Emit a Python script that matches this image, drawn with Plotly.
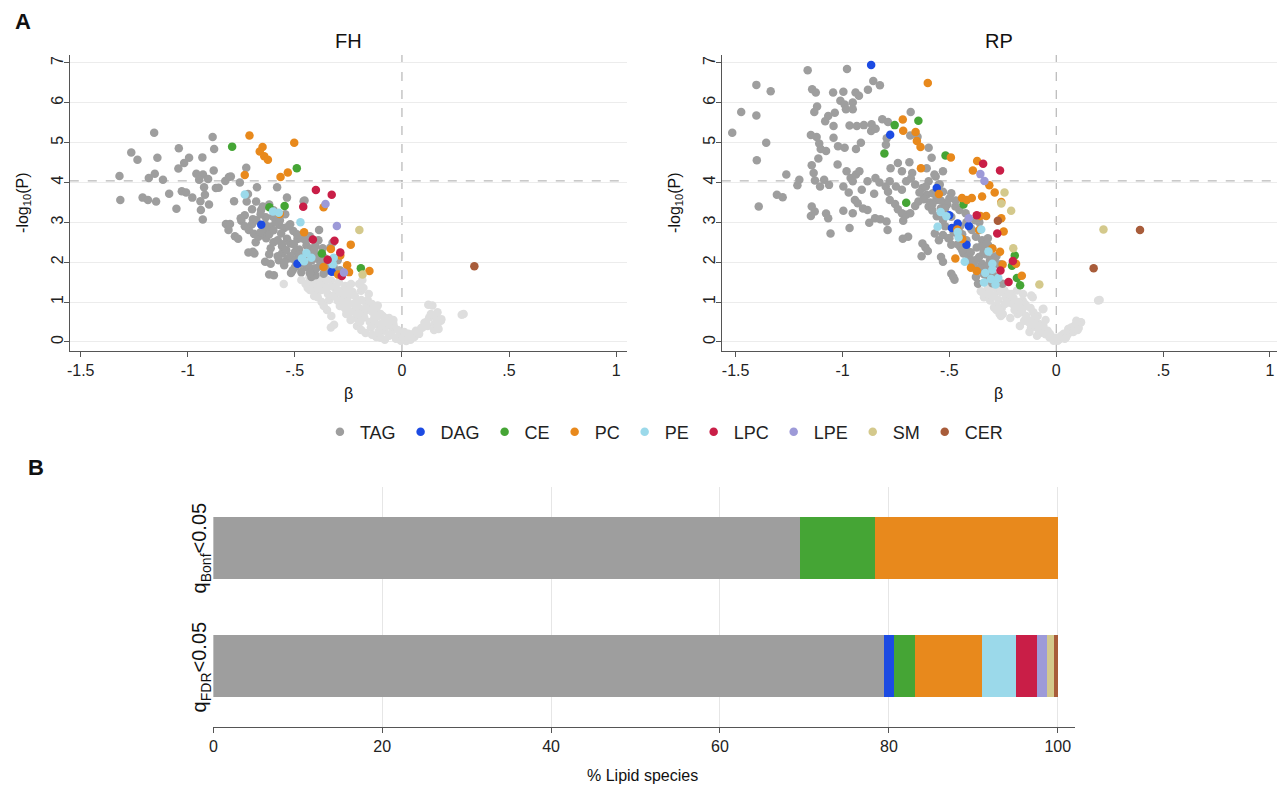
import plotly.graph_objects as go

W, H = 1283, 785

classes = ["TAG", "DAG", "CE", "PC", "PE", "LPC", "LPE", "SM", "CER"]
colors = {"TAG": "#9e9e9e", "DAG": "#1c4be3", "CE": "#45a535", "PC": "#e8891c",
          "PE": "#9bd9ea", "LPC": "#c91e47", "LPE": "#9d9ad8", "SM": "#d4c98c", "CER": "#a85c3a"}
ns_color = "#dedede"

# ---------------- FH panel data (beta, -log10 P) ----------------
fh_ns_beta = [-0.552,-0.432,-0.420,-0.409,-0.400,-0.393,-0.385,-0.375,-0.362,-0.355,-0.346,-0.340,-0.331,-0.325,-0.316,-0.310,-0.300,-0.295,-0.290,-0.284,-0.278,-0.269,-0.265,-0.260,-0.253,-0.245,-0.238,-0.230,-0.222,-0.215,-0.207,-0.200,-0.191,-0.185,-0.180,-0.176,-0.170,-0.160,-0.155,-0.150,-0.145,-0.138,-0.129,-0.120,-0.113,-0.105,-0.098,-0.090,-0.083,-0.075,-0.067,-0.060,-0.051,-0.045,-0.036,-0.028,-0.020,-0.010,-0.005,0.005,0.011,0.020,0.027,0.040,0.050,0.058,0.065,0.080,0.096,0.105,0.112,0.120,0.127,0.123,0.142,0.135,0.151,0.160,0.166,0.171,0.182,0.184,0.288,0.279,-0.332,-0.317,-0.440,-0.470,-0.350,-0.330,-0.240,-0.210,-0.190,-0.170,-0.140,-0.120,-0.100,-0.080,-0.375,-0.410,-0.365,-0.275,-0.255,-0.225,-0.205,-0.195,-0.165,-0.130,-0.110,-0.060,-0.040,0.030,0.070,0.090,0.150,0.165,
              -0.45,-0.43,-0.39,-0.35,-0.32,-0.30,-0.27,-0.25,-0.22,-0.18,-0.20,-0.16,-0.14,-0.12,-0.10,-0.08,-0.06,-0.04,-0.02,0.00,0.01,0.03,-0.28,-0.26,-0.24,-0.21,-0.19,-0.17,-0.13,-0.11]
fh_ns_logp = [1.45,1.62,1.50,1.37,1.25,1.12,1.45,1.30,1.45,1.58,1.20,1.05,1.54,1.40,1.37,1.20,1.03,1.50,0.90,1.28,1.10,0.86,1.40,0.70,1.12,0.95,1.45,1.25,0.78,0.60,1.03,0.85,1.28,1.55,0.70,0.61,1.00,0.86,1.20,0.50,0.36,0.75,0.61,0.45,0.91,0.30,0.45,0.65,0.28,0.40,0.53,0.15,0.19,0.30,0.36,0.08,0.11,0.20,0.03,0.10,0.07,0.02,0.11,0.05,0.19,0.12,0.28,0.20,0.36,0.48,0.49,0.40,0.61,0.93,0.91,0.70,0.45,0.60,0.74,0.32,0.53,0.57,0.70,0.68,0.36,0.43,1.35,1.55,0.80,0.65,0.55,0.40,0.30,0.22,0.18,0.12,0.10,0.05,1.00,1.15,0.90,1.20,1.00,0.95,0.70,0.50,0.80,0.55,0.25,0.60,0.45,0.15,0.25,0.35,0.30,0.40,
              1.45,1.30,1.55,1.35,1.15,1.30,1.20,1.30,1.15,1.35,1.45,1.05,0.95,0.80,0.70,0.60,0.45,0.55,0.30,0.18,0.25,0.20,0.95,0.80,0.75,0.90,1.05,0.85,0.55,0.65]

fh_TAG_beta = [-1.157,-0.884,-1.264,-1.235,-1.042,-0.877,-1.142,-0.994,-0.932,-1.017,-1.044,-0.727,-1.319,-1.154,-1.182,-1.116,-0.960,-0.929,-0.947,-0.879,-0.905,-0.825,-0.808,-0.799,-0.757,-1.315,-1.211,-1.186,-1.148,-1.087,-1.028,-1.008,-0.979,-0.941,-0.920,-0.901,-0.924,-0.869,-0.856,-1.053,-0.939,-0.930,-0.784,-0.677,-0.583,-0.719,-0.725,-0.681,-0.537,-0.459,-0.455,-0.822,-0.803,-0.810,-0.780,-0.765,-0.750,-0.734,-0.715,-0.717,-0.696,-0.691,-0.683,-0.634,-0.613,-0.639,-0.613,-0.620,-0.598,-0.700,-0.658,-0.636,-0.602,-0.573,-0.550,-0.522,-0.507,-0.564,-0.537,-0.522,-0.488,-0.480,-0.387,-0.446,-0.423,-0.404,-0.560,-0.535,-0.518,-0.550,-0.499,-0.446,-0.412,-0.404,-0.366,-0.347,-0.385,-0.410,-0.334,-0.324,-0.632,-0.651,-0.670,-0.696,-0.734,-0.753,-0.613,-0.499,-0.470,-0.575,-0.689,-0.423,-0.319,-0.423,-0.590,-0.545,-0.505,-0.470,-0.440,-0.395,-0.355,-0.300,-0.290,-0.560,-0.520,-0.480,-0.600,-0.650,-0.430,-0.380,
               -0.70,-0.68,-0.66,-0.64,-0.62,-0.60,-0.58,-0.56,-0.54,-0.52,-0.50,-0.48,-0.46,-0.44,-0.42,-0.40,-0.38,-0.36,-0.34,-0.33,-0.31,-0.62,-0.58,-0.55,-0.51,-0.47,-0.43,-0.66,-0.62,-0.60,-0.57,-0.53,-0.49,-0.45,-0.41,-0.39,-0.37]
fh_TAG_logp = [5.25,5.14,4.75,4.57,4.86,4.84,4.62,4.62,4.63,4.49,4.35,4.37,4.16,4.22,4.11,4.07,4.22,4.20,4.07,4.30,4.09,4.04,4.14,4.15,4.00,3.56,3.62,3.56,3.52,3.72,3.78,3.75,3.62,3.53,3.69,3.45,3.88,3.86,3.87,3.34,3.31,3.07,3.53,3.88,3.88,3.71,3.52,3.52,3.62,3.53,3.55,2.96,2.96,2.81,2.65,2.59,3.04,2.90,2.81,2.24,2.26,2.71,2.50,2.60,2.35,2.01,1.96,1.69,1.67,3.33,3.31,3.13,3.14,2.93,2.86,2.95,2.78,2.72,2.59,2.47,2.58,2.32,2.81,2.42,2.34,2.40,2.22,2.09,1.73,1.92,1.88,1.88,1.84,1.67,1.71,1.79,2.05,2.18,2.37,2.49,2.81,2.72,2.64,3.08,3.18,3.10,2.89,2.26,1.96,2.05,2.22,1.79,1.88,1.63,3.00,3.20,2.45,2.60,2.20,2.15,2.00,2.05,1.80,2.40,2.10,2.15,2.50,3.40,2.65,1.95,
               2.95,3.05,2.75,2.95,2.70,2.80,2.55,2.45,2.30,2.15,2.05,2.20,2.00,1.95,2.05,1.85,1.90,2.10,1.95,1.80,1.75,2.20,2.15,2.00,1.80,1.75,1.72,3.20,3.45,3.30,3.05,2.90,2.70,2.55,2.30,2.55,2.35]

fh_DAG_beta = [-0.657,-0.488,-0.328]
fh_DAG_logp = [2.94,1.96,1.76]
fh_CE_beta = [-0.793,-0.491,-0.619,-0.548,-0.374,-0.192]
fh_CE_logp = [4.90,4.36,3.38,3.41,2.22,1.85]
fh_PC_beta = [-0.712,-0.503,-0.651,-0.664,-0.643,-0.626,-0.734,-0.567,-0.533,-0.366,-0.571,-0.457,-0.239,-0.332,-0.288,-0.256,-0.366,-0.247,-0.152,-0.298]
fh_PC_logp = [5.18,5.00,4.89,4.78,4.66,4.57,4.19,4.14,4.25,3.38,3.21,2.75,2.44,2.33,2.17,1.92,1.88,1.75,1.78,1.69]
fh_PE_beta = [-0.734,-0.602,-0.575,-0.474,-0.446,-0.467,-0.423,-0.319,-0.323,-0.457]
fh_PE_logp = [3.70,3.27,3.24,3.00,2.23,2.09,2.11,2.11,1.95,2.02]
fh_LPC_beta = [-0.402,-0.328,-0.461,-0.416,-0.315,-0.288,-0.347,-0.281]
fh_LPC_logp = [3.81,3.69,3.39,2.57,2.54,2.24,2.06,1.65]
fh_LPE_beta = [-0.357,-0.304,-0.271]
fh_LPE_logp = [3.46,2.91,1.74]
fh_SM_beta = [-0.199,-0.184]
fh_SM_logp = [2.81,1.69]
fh_CER_beta = [0.338]
fh_CER_logp = [1.90]

# ---------------- RP panel data ----------------
rp_ns_beta = [-0.338,-0.291,-0.259,-0.236,-0.204,-0.181,-0.157,-0.150,-0.118,-0.110,-0.087,-0.063,-0.071,-0.040,-0.016,0.007,0.023,0.054,0.070,0.093,0.116,0.203,-0.353,-0.328,-0.309,-0.265,-0.280,-0.242,-0.223,-0.184,-0.155,-0.146,-0.165,-0.117,-0.107,-0.117,-0.092,-0.060,-0.069,-0.050,-0.031,-0.012,0.017,0.046,0.056,0.084,0.113,0.094,0.196,-0.320,-0.300,-0.275,-0.255,-0.230,-0.215,-0.195,-0.175,-0.140,-0.130,-0.100,-0.080,-0.300,-0.270,-0.210,-0.170,-0.125,-0.090,0.035,0.065,0.105,
              -0.34,-0.31,-0.29,-0.26,-0.24,-0.22,-0.20,-0.18,-0.16,-0.14,-0.12,-0.10,-0.08,-0.06,-0.05,-0.03,0.00,0.02,0.04,0.08,0.10,-0.28,-0.25]
rp_ns_logp = [1.12,0.86,0.65,1.12,0.95,0.70,1.03,0.53,0.36,1.12,0.65,0.82,0.23,0.28,0.11,0.03,0.15,0.19,0.36,0.45,0.49,1.05,1.27,1.20,1.04,0.70,0.91,1.29,0.99,1.29,1.20,0.95,0.74,1.16,0.74,0.53,0.36,0.83,0.28,0.19,0.11,0.03,0.07,0.11,0.32,0.40,0.49,0.53,1.04,1.35,1.15,1.30,0.85,1.10,0.60,0.80,1.00,0.90,0.50,0.60,0.45,1.40,1.05,1.20,0.40,0.25,0.15,0.20,0.25,0.35,
              1.20,1.30,1.15,1.25,0.95,1.20,1.10,0.90,0.80,0.65,0.85,0.45,0.30,0.40,0.55,0.20,0.10,0.12,0.08,0.25,0.30,0.80,0.70]

rp_TAG_beta = [-1.516,-1.474,-1.403,-1.403,-1.336,-1.357,-1.401,-1.263,-1.211,-1.202,-1.307,-1.280,-1.392,-1.163,-0.979,-0.856,-0.825,-0.881,-1.142,-1.125,-1.044,-0.996,-0.939,-0.923,-1.010,-0.990,-0.952,-1.119,-1.132,-1.036,-0.984,-0.952,-1.067,-1.081,-1.042,-0.967,-0.933,-0.900,-0.864,-0.814,-0.787,-0.681,-1.148,-1.121,-1.109,-1.102,-1.077,-1.113,-1.042,-1.021,-0.990,-0.937,-0.914,-0.866,-0.845,-0.797,-0.793,-0.683,-0.649,-0.597,-0.583,-1.144,-1.135,-1.129,-1.105,-1.086,-1.063,-1.023,-0.981,-0.962,-0.937,-0.921,-0.952,-0.996,-0.971,-0.910,-0.883,-0.846,-0.852,-0.827,-0.798,-0.779,-0.775,-0.741,-0.722,-0.687,-0.674,-0.702,-0.750,-0.722,-0.787,-1.144,-1.148,-1.130,-1.077,-1.067,-1.056,-0.996,-0.967,-0.942,-0.929,-0.904,-0.883,-0.952,-0.875,-0.848,-0.823,-0.794,-0.789,-0.754,-0.741,-0.779,-0.722,-0.716,-0.702,-0.683,-0.660,-0.645,-0.620,-0.606,-0.578,-0.530,-0.491,-0.597,-0.559,-0.522,-0.693,-0.718,-0.626,-0.612,-0.630,-0.601,-0.568,-0.549,-0.530,-0.539,-0.530,-0.491,-0.491,-0.476,-0.482,-0.449,-0.434,-0.409,-0.386,-0.372,-0.361,-0.347,-0.328,-0.376,-0.366,-0.322,-0.299,-0.251,-0.472,-0.453,-0.597,-0.564,-0.530,-0.606,-0.626,-0.559,-0.530,-0.491,-0.424,-0.395,-0.376,-0.347,-0.319,-0.290,-0.280,-0.309,-0.580,-0.560,-0.545,-0.510,-0.470,-0.450,-0.420,-0.400,-0.360,-0.340,-0.310,-0.290,-0.610,-0.590,-0.540,-0.505,-0.460,
               -0.46,-0.44,-0.42,-0.40,-0.38,-0.36,-0.34,-0.33,-0.31,-0.29,-0.27,-0.35,-0.32,-0.30,-0.28,-0.26,-0.52,-0.50,-0.48,-0.44,-0.42,-0.40,-0.38,-0.36,-0.56,-0.54,-0.52,-0.50,-0.58,-0.62,-0.64,-0.66,-0.68,-0.57,-0.55]
rp_TAG_logp = [5.25,5.77,6.45,5.68,6.29,5.00,4.56,4.20,3.93,4.07,3.69,3.63,3.40,6.82,6.85,6.55,6.44,6.33,6.34,6.26,6.26,6.28,6.26,6.18,6.05,5.96,6.01,5.91,5.77,5.75,5.84,5.84,5.67,5.54,5.42,5.43,5.42,5.44,5.46,5.59,5.52,5.77,5.19,5.14,4.98,4.84,4.79,4.60,5.12,4.91,4.87,4.84,5.00,5.29,5.35,4.95,5.11,5.18,5.15,4.87,4.62,4.43,4.24,4.05,3.90,4.07,3.94,4.45,4.28,4.11,4.20,4.28,4.03,3.90,3.75,3.82,4.03,4.11,3.72,4.00,3.90,4.03,4.36,4.49,4.28,4.51,4.24,4.03,3.90,3.82,3.77,3.40,3.16,3.27,3.22,3.10,2.72,3.29,2.86,3.56,3.48,3.35,3.31,3.23,2.99,3.10,3.08,3.02,2.81,3.46,3.33,3.56,3.23,3.04,3.19,3.23,3.41,3.52,3.58,3.69,3.73,3.77,3.73,3.40,3.56,3.48,2.64,2.59,2.47,2.37,2.15,2.28,2.72,2.55,2.68,2.13,2.01,2.44,1.71,1.56,1.63,2.38,2.22,2.13,1.96,2.37,2.13,1.96,1.88,1.63,1.46,1.64,1.47,1.46,3.40,3.31,4.03,4.15,4.28,4.36,3.86,3.15,3.06,3.14,3.23,2.81,2.64,2.55,2.43,2.13,1.96,1.79,3.30,3.60,3.95,3.45,3.55,2.90,2.30,2.00,1.80,2.25,2.05,1.65,3.90,3.50,3.35,2.60,2.70,
               2.45,2.30,2.55,2.25,2.05,1.85,1.70,2.20,2.00,1.60,1.50,2.40,2.60,2.35,2.15,1.95,2.90,2.60,2.75,2.70,3.00,2.85,3.05,3.00,3.70,3.55,3.35,3.60,3.45,3.60,3.75,3.95,4.10,4.20,3.95]

rp_DAG_beta = [-0.866,-0.777,-0.559,-0.501,-0.461,-0.488,-0.409,-0.420]
rp_DAG_logp = [6.95,5.20,3.86,3.18,2.97,2.86,2.91,2.44]
rp_CE_beta = [-0.756,-0.645,-0.804,-0.518,-0.702,-0.434,-0.194,-0.207,-0.184,-0.169]
rp_CE_logp = [5.44,5.55,4.73,4.68,3.49,3.45,2.17,1.91,1.60,1.42]
rp_PC_beta = [-0.601,-0.718,-0.716,-0.658,-0.652,-0.635,-0.493,-0.633,-0.370,-0.390,-0.313,-0.288,-0.347,-0.549,-0.441,-0.418,-0.395,-0.257,-0.328,-0.355,-0.257,-0.246,-0.463,-0.440,-0.361,-0.299,-0.263,-0.472,-0.251,-0.399,-0.372,-0.188,-0.161]
rp_PC_logp = [6.50,5.58,5.30,5.27,5.04,4.89,4.63,4.36,4.54,4.30,3.93,3.75,3.65,3.71,3.61,3.56,3.61,3.51,3.16,3.16,3.10,2.77,2.82,2.58,2.81,2.34,2.26,2.09,1.94,1.86,1.78,1.96,1.66]
rp_PE_beta = [-0.541,-0.514,-0.555,-0.461,-0.457,-0.351,-0.317,-0.428,-0.299,-0.299,-0.332,-0.305,-0.338,-0.271,-0.284]
rp_PE_logp = [3.26,3.15,2.89,2.76,2.62,2.82,2.27,2.01,1.96,1.81,1.73,1.58,1.49,1.60,1.44]
rp_LPC_beta = [-0.342,-0.263,-0.372,-0.276,-0.203,-0.261,-0.223]
rp_LPC_logp = [4.47,4.30,3.18,2.72,2.03,1.79,1.50]
rp_LPE_beta = [-0.355,-0.336,-0.409]
rp_LPE_logp = [4.21,4.04,3.10]
rp_SM_beta = [-0.242,-0.257,-0.211,-0.201,-0.079,0.221]
rp_SM_logp = [3.75,3.47,3.29,2.35,1.44,2.82]
rp_CER_beta = [-0.273,0.175,0.392]
rp_CER_logp = [3.04,1.85,2.81]

# ---------------- Panel B: % lipid species ----------------
bar_rows = ["FDR", "Bonf"]
bar_pct = {
    "TAG": [79.4, 69.5],
    "DAG": [1.2, 0.0],
    "CE":  [2.5, 8.8],
    "PC":  [7.9, 21.7],
    "PE":  [4.1, 0.0],
    "LPC": [2.4, 0.0],
    "LPE": [1.2, 0.0],
    "SM":  [0.8, 0.0],
    "CER": [0.5, 0.0],
}

fh = {"TAG": (fh_TAG_beta, fh_TAG_logp), "DAG": (fh_DAG_beta, fh_DAG_logp), "CE": (fh_CE_beta, fh_CE_logp),
      "PC": (fh_PC_beta, fh_PC_logp), "PE": (fh_PE_beta, fh_PE_logp), "LPC": (fh_LPC_beta, fh_LPC_logp),
      "LPE": (fh_LPE_beta, fh_LPE_logp), "SM": (fh_SM_beta, fh_SM_logp), "CER": (fh_CER_beta, fh_CER_logp)}
rp = {"TAG": (rp_TAG_beta, rp_TAG_logp), "DAG": (rp_DAG_beta, rp_DAG_logp), "CE": (rp_CE_beta, rp_CE_logp),
      "PC": (rp_PC_beta, rp_PC_logp), "PE": (rp_PE_beta, rp_PE_logp), "LPC": (rp_LPC_beta, rp_LPC_logp),
      "LPE": (rp_LPE_beta, rp_LPE_logp), "SM": (rp_SM_beta, rp_SM_logp), "CER": (rp_CER_beta, rp_CER_logp)}

FONT = "Liberation Sans, Arial, sans-serif"
MS = 8.5

fig = go.Figure()

for panel, ns_b, ns_p, xa, ya, show in [(fh, fh_ns_beta, fh_ns_logp, "x", "y", True),
                                         (rp, rp_ns_beta, rp_ns_logp, "x2", "y2", False)]:
    fig.add_trace(go.Scatter(x=ns_b, y=ns_p, mode="markers", xaxis=xa, yaxis=ya,
                             marker=dict(size=MS, color=ns_color), showlegend=False, hoverinfo="skip"))
    for c in classes:
        b, p = panel[c]
        fig.add_trace(go.Scatter(x=b, y=p, mode="markers", xaxis=xa, yaxis=ya, name=c,
                                 legendgroup=c, showlegend=show,
                                 marker=dict(size=MS, color=colors[c])))

for c in classes:
    fig.add_trace(go.Bar(x=bar_pct[c], y=[0, 1], orientation="h", xaxis="x3", yaxis="y3",
                         marker=dict(color=colors[c], line=dict(width=0)), width=0.52,
                         showlegend=False, name=c))

def px(x):
    return x / W

def py(y):
    return 1 - y / H

axis_common = dict(showline=True, linecolor="#555555", linewidth=1.3, ticks="outside", ticklen=5,
                   tickcolor="#555555", tickfont=dict(size=16, color="#222", family=FONT), zeroline=False)

xt_vals = [-1.5, -1, -0.5, 0, 0.5, 1]
xt_text = ["-1.5", "-1", "-.5", "0", ".5", "1"]

fig.update_layout(
    width=W, height=H, margin=dict(l=0, r=0, t=0, b=0),
    paper_bgcolor="white", plot_bgcolor="white",
    font=dict(family=FONT, color="#222"),
    barmode="stack",
    xaxis=dict(domain=[px(66), px(625)], range=[-1.551, 1.051], tickvals=xt_vals, ticktext=xt_text,
               showgrid=False, anchor="y", **axis_common),
    yaxis=dict(domain=[py(351), py(55)], range=[-0.23, 7.2], tickvals=list(range(8)), tickangle=-90,
               ticklabelstandoff=-6,
               showgrid=True, gridcolor="#ececec", anchor="x", **axis_common),
    xaxis2=dict(domain=[px(720), px(1277)], range=[-1.565, 1.033], tickvals=xt_vals, ticktext=xt_text,
                showgrid=False, anchor="y2", **axis_common),
    yaxis2=dict(domain=[py(351), py(55)], range=[-0.23, 7.2], tickvals=list(range(8)), tickangle=-90,
                ticklabelstandoff=-6,
                showgrid=True, gridcolor="#ececec", anchor="x2", **axis_common),
    xaxis3=dict(domain=[px(210), px(1074)], range=[0, 102], tickvals=[0, 20, 40, 60, 80, 100],
                showgrid=True, gridcolor="#e6e6e6", anchor="y3", **axis_common),
    yaxis3=dict(domain=[py(727), py(487)], range=[-0.517, 1.517], showticklabels=False, showgrid=False,
                showline=False, zeroline=False, ticks="", anchor="x3"),
    legend=dict(orientation="h", x=px(662), xanchor="center", y=py(432), yanchor="middle",
                font=dict(size=18, family=FONT, color="#222"), itemwidth=30, bgcolor="rgba(0,0,0,0)"),
)

shapes = []
for xa, ya in [("x", "y"), ("x2", "y2")]:
    shapes.append(dict(type="line", xref=xa + " domain", yref=ya, x0=0, x1=1, y0=4.04, y1=4.04,
                       line=dict(color="#a8a8a8", width=1, dash="dash"), layer="below"))
    shapes.append(dict(type="line", xref=xa, yref=ya + " domain", x0=0, x1=0, y0=0, y1=1,
                       line=dict(color="#a8a8a8", width=1, dash="dash"), layer="below"))
fig.update_layout(shapes=shapes)

ann = [
    dict(text="<b>A</b>", x=px(19), y=py(22), font=dict(size=22)),
    dict(text="<b>B</b>", x=px(32), y=py(467), font=dict(size=22)),
    dict(text="FH", x=px(346), y=py(41), font=dict(size=20)),
    dict(text="RP", x=px(998), y=py(41), font=dict(size=20)),
    dict(text="β", x=px(346), y=py(393), font=dict(size=16)),
    dict(text="β", x=px(998), y=py(393), font=dict(size=16)),
    dict(text="-log<sub>10</sub>(P)", x=px(20), y=py(203), font=dict(size=16), textangle=-90),
    dict(text="-log<sub>10</sub>(P)", x=px(674), y=py(203), font=dict(size=16), textangle=-90),
    dict(text="q<sub>Bonf</sub>&lt;0.05", x=px(197), y=py(548), font=dict(size=20), textangle=-90),
    dict(text="q<sub>FDR</sub>&lt;0.05", x=px(197), y=py(667), font=dict(size=20), textangle=-90),
    dict(text="% Lipid species", x=px(640), y=py(775), font=dict(size=16)),
]
for a in ann:
    a.update(xref="paper", yref="paper", showarrow=False, xanchor="center", yanchor="middle")
    a["font"].update(family=FONT, color="#111")
fig.update_layout(annotations=ann)

fig.write_html("out.html", config={"displayModeBar": False},
               post_script="document.body.style.margin='0px';document.body.style.overflow='hidden';")
